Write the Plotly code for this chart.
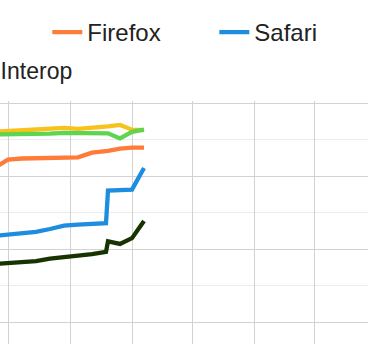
import plotly.graph_objects as go

dates = ["2023-06-24", "2023-07-01", "2023-07-08", "2023-07-15", "2023-07-22",
         "2023-07-29", "2023-08-05", "2023-08-12", "2023-08-19", "2023-08-20",
         "2023-08-26", "2023-09-01", "2023-09-07"]
chrome = [92.1, 92.3, 92.5, 92.6, 93.0, 93.2, 92.9, 93.2, 93.4, 93.6, 94.0, 92.7, 92.6]
edge = [91.4, 91.4, 91.4, 91.5, 91.6, 91.8, 91.8, 91.9, 91.8, 91.7, 90.3, 92.1, 92.7]
firefox = [82.2, 84.5, 84.8, 84.9, 85.0, 85.1, 85.1, 86.4, 86.8, 86.9, 87.5, 87.8, 87.8]
safari = [63.6, 64.0, 64.4, 64.7, 65.5, 66.4, 66.7, 67.0, 67.1, 76.0, 76.2, 76.3, 82.2]
interop = [55.9, 56.2, 56.4, 56.7, 57.4, 57.9, 58.2, 58.6, 59.2, 62.1, 61.4, 63.0, 67.7]

# (name, values, colour, legend group, shown in visible legend area)
series = [
    ("Chrome", chrome, "#f7c21b", "legend", False),
    ("Edge", edge, "#5fd44e", "legend", False),
    ("Firefox", firefox, "#ff7b39", "legend", True),
    ("Safari", safari, "#1d8de0", "legend", True),
    ("Interop", interop, "#173300", "legend2", True),
]

fig = go.Figure()
for name, vals, color, lg, show in series:
    fig.add_trace(go.Scatter(x=dates, y=vals, name=name, mode="lines",
                             line=dict(color=color, width=4.3), legend=lg,
                             showlegend=show))

font1 = dict(family="Arial, Liberation Sans, sans-serif", size=24, color="#222222")
font2 = dict(family="Arial, Liberation Sans, sans-serif", size=23, color="#222222")

fig.update_layout(
    width=368, height=344,
    margin=dict(l=0, r=0, t=101, b=0, autoexpand=False),
    paper_bgcolor="white", plot_bgcolor="white",
    font=font2,
    showlegend=True,
    legend=dict(orientation="h", x=0.1286, y=1.3745, xanchor="left", yanchor="top",
                entrywidth=122, entrywidthmode="pixels", font=font1,
                bgcolor="rgba(0,0,0,0)", traceorder="normal"),
    legend2=dict(orientation="h", x=-0.107, y=1.214, xanchor="left", yanchor="top",
                 font=font2, bgcolor="rgba(0,0,0,0)"),
    xaxis=dict(type="date", range=["2023-06-27", "2023-12-28"], dtick="M1",
               tick0="2023-07-01", showticklabels=False, showgrid=True,
               gridcolor="#d2d2d2", gridwidth=1.4, zeroline=False, showline=False,
               ticks=""),
    yaxis=dict(range=[34.0, 100.55], dtick=20, tick0=0, showticklabels=False,
               showgrid=True, gridcolor="#d2d2d2", gridwidth=1.4, zeroline=False,
               showline=False, ticks="",
               minor=dict(dtick=10, tick0=0, showgrid=True, gridcolor="#ececec",
                          gridwidth=1.4)),
)

fig.write_html("out.html")
